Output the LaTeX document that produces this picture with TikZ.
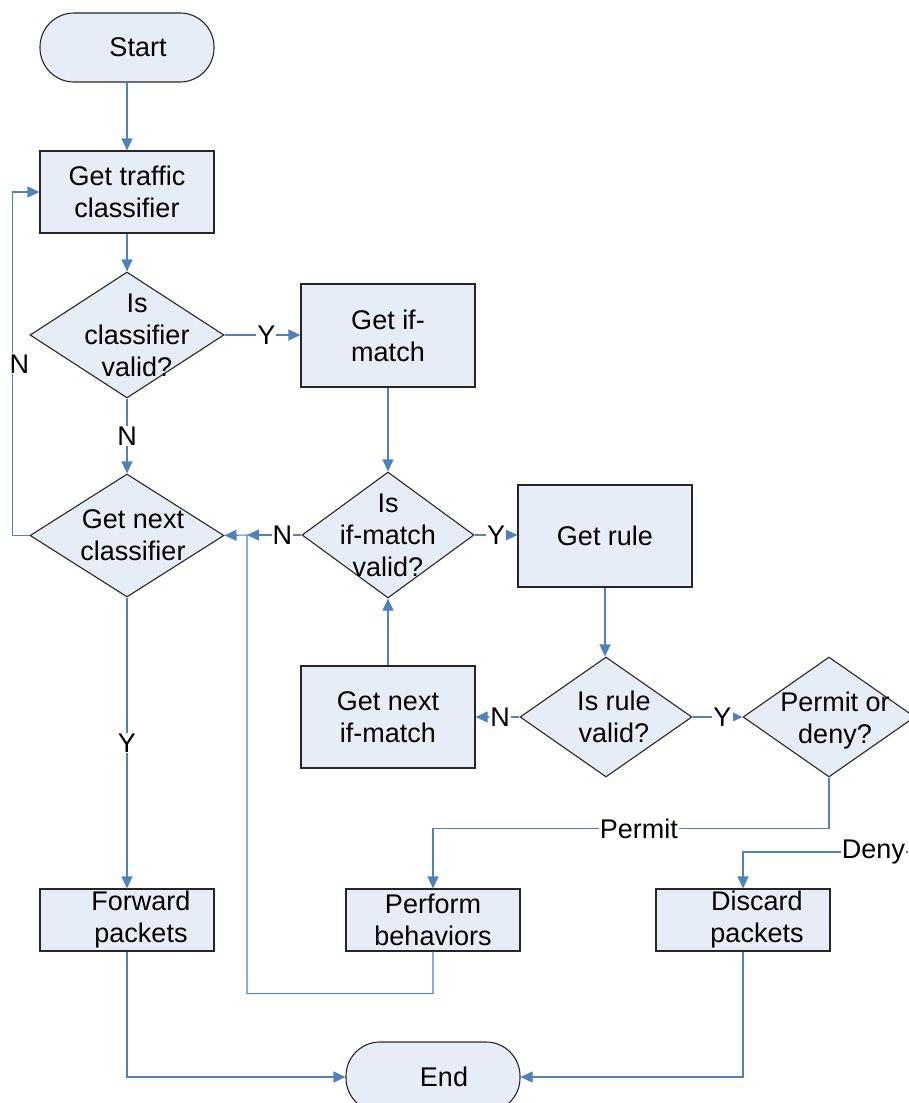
\documentclass[tikz,border=0pt]{standalone}
\usepackage{fontspec}
\setmainfont{Liberation Sans}
\usetikzlibrary{shapes.geometric,arrows.meta}
\definecolor{boxfill}{RGB}{231,237,247}
\definecolor{linkblue}{RGB}{79,129,189}

\tikzset{
  base/.style={draw=black!85, fill=boxfill, line width=1.1pt, inner sep=0pt, align=center, font=\fontsize{27}{32}\selectfont},
  startstop/.style={base, rectangle, rounded corners=34pt, minimum width=174pt, minimum height=69pt},
  process/.style={base, rectangle, minimum width=174pt},
  decision/.style={base, diamond},
  flow/.style={draw=linkblue, line width=1.1pt, -{Triangle[length=12pt,width=11pt]}},
  lbl/.style={fill=white, inner sep=1pt, text=black, font=\fontsize{27}{32}\selectfont}
}

\begin{document}
\begin{tikzpicture}[x=1pt,y=1pt,yscale=-1,xscale=1]
\path[use as bounding box] (0,0) rectangle (908,1103);

% Terminals
\node[startstop] (start) at (127,47.5) {\hspace*{22pt}Start};
\node[startstop, minimum height=70pt] (end) at (433,1077) {\hspace*{22pt}End};

% Processes
\node[process, minimum height=82pt] (gtc) at (127,192) {Get traffic\\classifier};
\node[process, minimum height=103pt] (gim) at (388,335.5) {Get if-\\match};
\node[process, minimum height=102pt] (gr) at (605,536) {Get rule};
\node[process, minimum height=102pt] (gni) at (388,717) {Get next\\if-match};
\node[process, minimum height=62pt] (fp) at (127,920) {\hspace*{28pt}Forward\\\hspace*{28pt}packets};
\node[process, minimum height=62pt] (pb) at (433,920) {Perform\\behaviors};
\node[process, minimum height=62pt] (dp) at (743,920) {\hspace*{28pt}Discard\\\hspace*{28pt}packets};

% Decisions
\node[decision, minimum width=194pt, minimum height=126pt,
  label={[align=center, xshift=10pt, font=\fontsize{27}{32}\selectfont]center:Is\\classifier\\valid?}] (icv) at (127,335) {};
\node[decision, minimum width=194pt, minimum height=123pt,
  label={[align=center, xshift=6pt, font=\fontsize{27}{32}\selectfont]center:Get next\\classifier}] (gnc) at (127,535.5) {};
\node[decision, minimum width=172pt, minimum height=126pt,
  label={[align=center, font=\fontsize{27}{32}\selectfont]center:Is\\if-match\\valid?}] (imv) at (388,535) {};
\node[decision, minimum width=172pt, minimum height=120pt,
  label={[align=center, xshift=8pt, font=\fontsize{27}{32}\selectfont]center:Is rule\\valid?}] (irv) at (606,717) {};
\node[decision, minimum width=172pt, minimum height=120pt,
  label={[align=center, xshift=6pt, yshift=-4pt, font=\fontsize{27}{32}\selectfont]center:Permit or\\deny?}] (pod) at (829,717) {};

\coordinate (jn) at (247,535);
\coordinate (dn) at (908,852);

% Connectors
\draw[flow] (start) -- (gtc);
\draw[flow] (gtc) -- (icv);
\draw[flow] (icv.east) -- node[lbl, pos=0.55]{Y} (gim.west |- icv.east);
\draw[flow] (icv) -- node[lbl]{N} (gnc);
\draw[flow] (gnc.west) -- ++(-17,0) |- node[lbl, pos=0.25, xshift=7pt]{N} (gtc.west);
\draw[flow] (gnc) -- node[lbl]{Y} (fp);
\draw[flow] (gim) -- (imv);
\draw[flow] (imv.west) -- node[lbl, pos=0.35]{N} (jn);
\draw[flow] (pb.south) -- ++(0,42) -| (jn) -- (gnc.east);
\draw[flow] (imv.east) -- node[lbl, pos=0.5]{Y} (gr.west |- imv.east);
\draw[flow] (gr) -- (gr |- irv.north);
\draw[flow] (gni) -- (imv);
\draw[flow] (irv.west) -- node[lbl, pos=0.44]{N} (gni.east |- irv.west);
\draw[flow] (irv.east) -- node[lbl, pos=0.6]{Y} (pod.west);
\draw[flow] (pod.south) -- ++(0,51) -| node[lbl, pos=0.24]{Permit} (pb.north);
\draw[flow] (dn) -| node[lbl, pos=0.1, xshift=-1.5pt]{Deny} (dp.north);
\draw[flow] (fp.south) |- (end.west);
\draw[flow] (dp.south) |- (end.east);

\end{tikzpicture}
\end{document}
